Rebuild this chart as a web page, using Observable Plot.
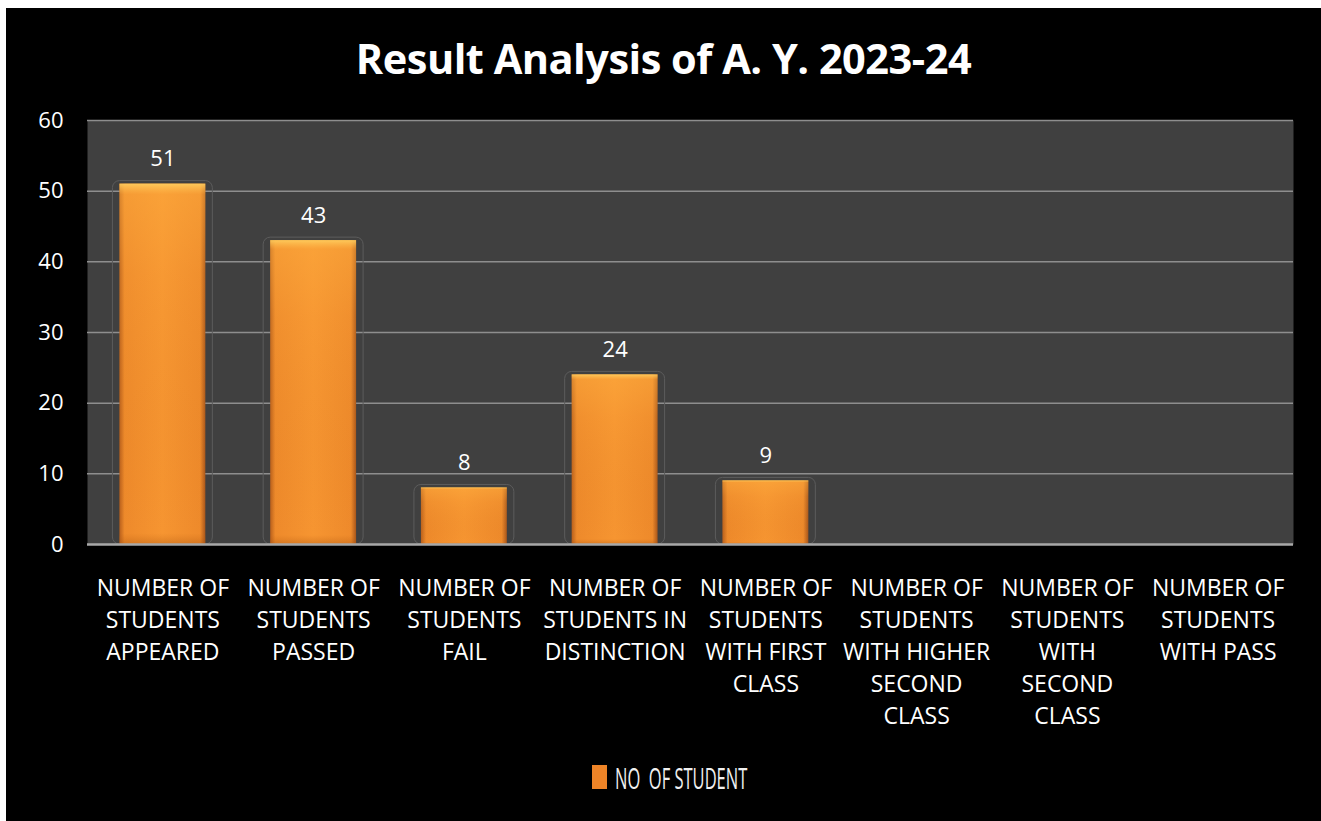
<!DOCTYPE html>
<html>
<head>
<meta charset="utf-8">
<script src="https://cdn.jsdelivr.net/npm/d3@7"></script>
<script src="https://cdn.jsdelivr.net/npm/@observablehq/plot@0.6"></script>
<style>
  html, body { margin: 0; padding: 0; background: #fff; width: 1321px; height: 821px; overflow: hidden; }
  #card { position: absolute; left: 6px; top: 8px; width: 1315px; height: 813px; background: #000; }
  #title { position: absolute; left: 0; top: 22px; width: 1315px; text-align: center; color: #fff;
    font-family: "Open Sans", sans-serif; font-weight: 700; font-size: 41.5px; letter-spacing: -0.5px; }
  #chart { position: absolute; left: 0; top: 92px; }
  #legend { position: absolute; left: 586px; top: 754px; height: 30px; display: flex; align-items: center; }
  #legend .sw { width: 15px; height: 24px; background: #EE8427; }
  #legend .lb { color: #f0f0f0; font-family: "Open Sans", sans-serif; font-size: 30px; margin-left: 8px;
    transform: scaleX(0.55); transform-origin: left center; white-space: pre; }
</style>
</head>
<body>
<div id="card">
  <div id="title">Result Analysis of A. Y. 2023-24</div>
  <div id="chart"></div>
  <div id="legend"><div class="sw"></div><div class="lb">NO  OF STUDENT</div></div>
</div>
<script>
const categories = [
  "NUMBER OF\nSTUDENTS\nAPPEARED",
  "NUMBER OF\nSTUDENTS\nPASSED",
  "NUMBER OF\nSTUDENTS\nFAIL",
  "NUMBER OF\nSTUDENTS IN\nDISTINCTION",
  "NUMBER OF\nSTUDENTS\nWITH FIRST\nCLASS",
  "NUMBER OF\nSTUDENTS\nWITH HIGHER\nSECOND\nCLASS",
  "NUMBER OF\nSTUDENTS\nWITH\nSECOND\nCLASS",
  "NUMBER OF\nSTUDENTS\nWITH PASS"
];
const values = [51, 43, 8, 24, 9, 0, 0, 0];
const yTicks = [0, 10, 20, 30, 40, 50, 60];

const data = categories.map((c, i) => ({category: c, value: values[i]}));
const shown = data.filter(d => d.value > 0);

const chart = Plot.plot({
  width: 1315,
  height: 640,
  marginLeft: 81,
  marginRight: 28,
  marginTop: 20,
  marginBottom: 196,
  style: {background: "transparent", color: "#fff", fontFamily: "'Open Sans', sans-serif"},
  x: {domain: categories, paddingInner: 0.43, paddingOuter: 0.215, round: false, label: null},
  y: {domain: [0, 60], ticks: yTicks, label: null},
  marks: [
    Plot.frame({fill: "#404040", stroke: null}),
    Plot.ruleY(yTicks.filter(t => t > 0), {stroke: "#8e8e8e", strokeWidth: 1.5}),
    Plot.barY(shown, {x: "category", y: "value", fill: "none", stroke: "#5c5c5c", strokeWidth: 1,
      insetLeft: -7, insetRight: -7, insetTop: -3, rx: 7}),
    Plot.barY(shown, {x: "category", y: "value", fill: "url(#barGrad)"}),
    Plot.barY(shown, {x: "category", y: "value", fill: "url(#barShade)"}),
    Plot.ruleY([0], {stroke: "#a8a8a8", strokeWidth: 2.5}),
    Plot.text(shown, {x: "category", y: "value", text: d => String(d.value),
      dy: -25, fill: "#fff", fontSize: 22}),
    Plot.axisY({ticks: yTicks, tickSize: 0, tickPadding: 24, fontSize: 22, fill: "#fff"}),
    Plot.axisX({tickSize: 0, tickPadding: 29, fontSize: 23, lineHeight: 1.39, fill: "#fff"})
  ]
});

const ns = "http://www.w3.org/2000/svg";
const defs = document.createElementNS(ns, "defs");
defs.innerHTML = `
  <linearGradient id="barGrad" x1="0" x2="1" y1="0" y2="0">
    <stop offset="0" stop-color="#B9601C"/>
    <stop offset="0.06" stop-color="#EE8A2B"/>
    <stop offset="0.5" stop-color="#F69531"/>
    <stop offset="0.94" stop-color="#EE8A2B"/>
    <stop offset="1" stop-color="#A9561A"/>
  </linearGradient>
  <linearGradient id="barShade" x1="0" x2="0" y1="0" y2="1">
    <stop offset="0" stop-color="#FFD060" stop-opacity="0.9"/>
    <stop offset="0.03" stop-color="#FFB040" stop-opacity="0.45"/>
    <stop offset="0.25" stop-color="#FFB040" stop-opacity="0.15"/>
    <stop offset="0.97" stop-color="#C06010" stop-opacity="0"/>
    <stop offset="1" stop-color="#A05010" stop-opacity="0.35"/>
  </linearGradient>`;
chart.insertBefore(defs, chart.firstChild);
document.getElementById("chart").appendChild(chart);
</script>
</body>
</html>
